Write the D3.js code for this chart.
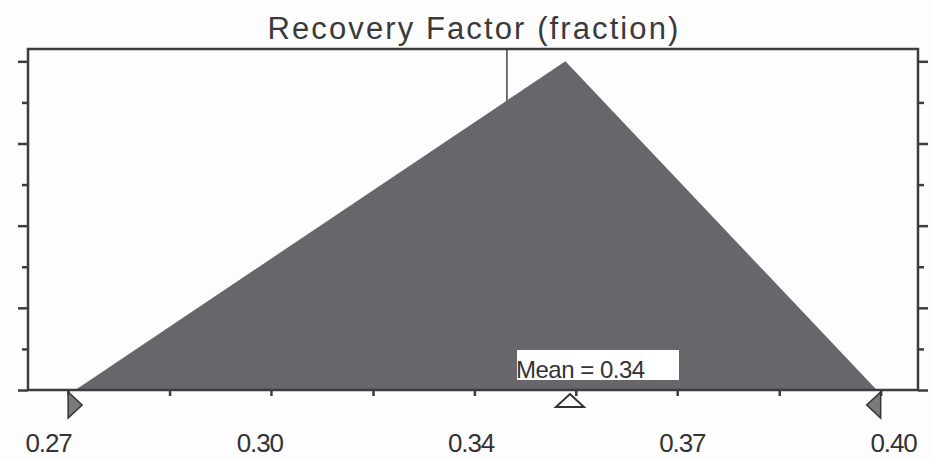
<!DOCTYPE html>
<html>
<head>
<meta charset="utf-8">
<script src="https://cdn.jsdelivr.net/npm/d3@7"></script>
<style>
  body { margin: 0; background: #fdfdfd; }
  text { font-family: "Liberation Sans", Arial, sans-serif; fill: #333; }
</style>
</head>
<body>
<script>
// Recovery factor - triangular-ish density
let distX = [0.2742, 0.3496, 0.3975];
let distY = [0, 16, 0];

// x axis labels (evenly spaced values, printed rounded)
let labelValues = [0.27, 0.3025, 0.335, 0.3675, 0.40];
let labelText = ['0.27', '0.30', '0.34', '0.37', '0.40'];
// small tick marks along the bottom
let minorTicks = [0.2731, 0.2887, 0.3043, 0.3200, 0.3356, 0.3512, 0.3668, 0.3825, 0.3981];
// y ticks (no labels), long and short
let longTicksY = [0, 4, 8, 12, 16];
let shortTicksY = [2, 6, 10, 14];

let minMarker = 0.2731, maxMarker = 0.3981;
let meanLine = 0.3406;
let meanMarker = 0.3503;
let meanLabel = 'Mean = 0.34';
let title = 'Recovery Factor (fraction)';

let width = 933, height = 460;
let margin = {top: 49, right: 15, bottom: 70, left: 28};

let svg = d3.select('body').append('svg')
    .attr('width', width)
    .attr('height', height);

let x = d3.scaleLinear()
    .domain([0.27, 0.40])
    .range([48, 893]);

let y = d3.scaleLinear()
    .domain([0, 16.6])
    .range([390, margin.top]);

let plotRight = 918;
let stroke = '#3d3d3d';

// mean line (behind the area)
svg.append('line')
    .attr('x1', x(meanLine)).attr('x2', x(meanLine))
    .attr('y1', y.range()[1]).attr('y2', y(0))
    .style('stroke', '#444')
    .style('stroke-width', 1.5);

let area = d3.area()
    .x((d, i) => x(distX[i]))
    .y0(y(0))
    .y1(d => y(d));

svg.append('path')
    .datum(distY)
    .attr('d', area)
    .style('fill', '#67676b');

// frame
svg.append('rect')
    .attr('x', margin.left)
    .attr('y', margin.top)
    .attr('width', plotRight - margin.left)
    .attr('height', y(0) - margin.top)
    .style('fill', 'none')
    .style('stroke', stroke)
    .style('stroke-width', 2.5);

function styleAxis(sel) {
    sel.select('.domain').remove();
    sel.selectAll('line').style('stroke', stroke).style('stroke-width', 2.5);
}

// left / right ticks
svg.append('g').attr('transform', 'translate(' + margin.left + ',0)')
    .call(d3.axisLeft(y).tickValues(longTicksY).tickSize(10).tickFormat(''))
    .call(styleAxis);
svg.append('g').attr('transform', 'translate(' + margin.left + ',0)')
    .call(d3.axisLeft(y).tickValues(shortTicksY).tickSize(6).tickFormat(''))
    .call(styleAxis);
svg.append('g').attr('transform', 'translate(' + plotRight + ',0)')
    .call(d3.axisRight(y).tickValues(longTicksY).tickSize(10).tickFormat(''))
    .call(styleAxis);
svg.append('g').attr('transform', 'translate(' + plotRight + ',0)')
    .call(d3.axisRight(y).tickValues(shortTicksY).tickSize(6).tickFormat(''))
    .call(styleAxis);

// bottom minor ticks
svg.append('g').attr('transform', 'translate(0,' + y(0) + ')')
    .call(d3.axisBottom(x).tickValues(minorTicks).tickSize(6).tickFormat(''))
    .call(styleAxis);

// bottom labels
let lab = svg.append('g').attr('transform', 'translate(0,' + y(0) + ')')
    .call(d3.axisBottom(x).tickValues(labelValues).tickSize(0)
        .tickFormat((d, i) => labelText[i]));
lab.select('.domain').remove();
lab.selectAll('text')
    .attr('y', 62)
    .attr('dy', null)
    .style('font-size', '26px')
    .style('letter-spacing', '-1.2px')
    .style('fill', '#333');

// min / max markers
let mk = svg.append('g');
let xl = x(minMarker);
mk.append('path')
    .attr('d', `M${xl},392 L${xl + 14},405 L${xl},418 Z`)
    .style('fill', '#7a7a7a').style('stroke', '#333').style('stroke-width', 1.5);
let xr = x(maxMarker);
mk.append('path')
    .attr('d', `M${xr},392 L${xr - 14},405 L${xr},418 Z`)
    .style('fill', '#7a7a7a').style('stroke', '#333').style('stroke-width', 1.5);

// mean marker
let xm = x(meanMarker);
mk.append('path')
    .attr('d', `M${xm},394 L${xm + 14},407 L${xm - 14},407 Z`)
    .style('fill', '#fff').style('stroke', '#333').style('stroke-width', 2);

// mean label box
svg.append('rect')
    .attr('x', 517).attr('y', 350)
    .attr('width', 162).attr('height', 30)
    .style('fill', '#fff');
svg.append('text')
    .attr('x', 516).attr('y', 378)
    .style('font-size', '24px')
    .style('letter-spacing', '-0.5px')
    .text(meanLabel);

// title
svg.append('text')
    .attr('x', 474).attr('y', 39)
    .attr('text-anchor', 'middle')
    .style('font-size', '31px')
    .style('letter-spacing', '2.1px')
    .style('fill', '#3a3a3a')
    .text(title);
</script>
</body>
</html>
